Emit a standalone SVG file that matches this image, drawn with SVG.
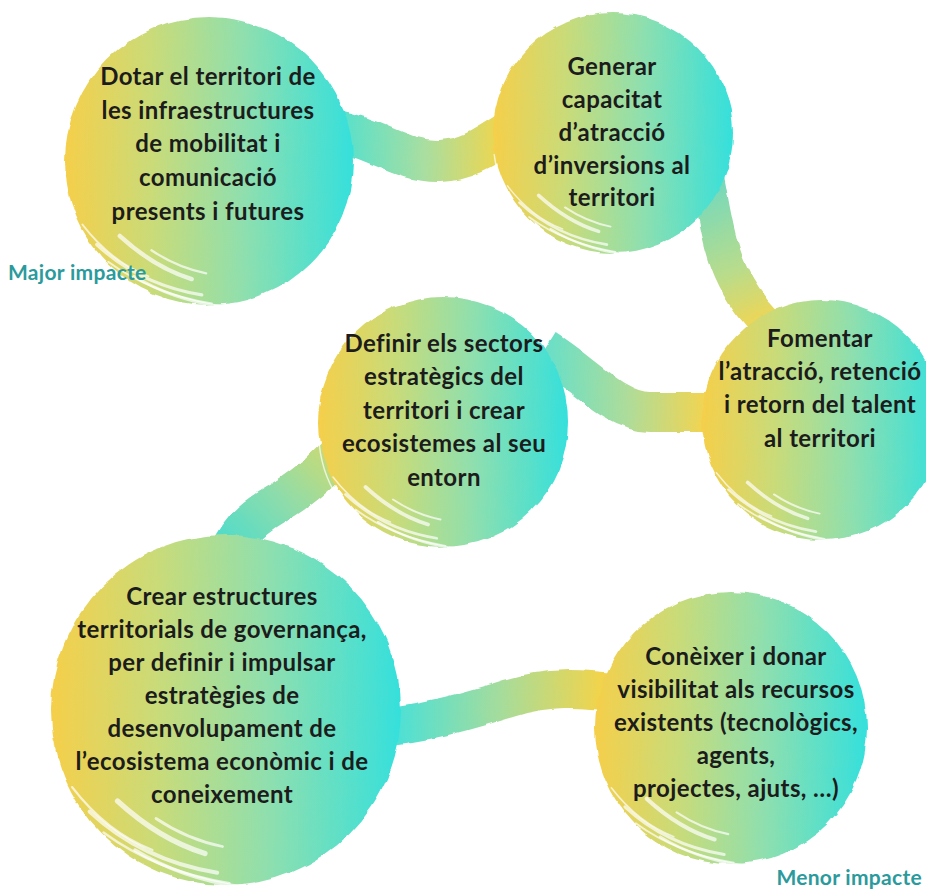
<svg xmlns="http://www.w3.org/2000/svg" xmlns:xlink="http://www.w3.org/1999/xlink" width="926" height="892" viewBox="0 0 926 892">
<style>
.node-text{font-family:"Lato","Noto Sans","DejaVu Sans",sans-serif;font-weight:700;font-size:24px;letter-spacing:0.4px;fill:#1c1c1c;text-anchor:middle}
.impact{font-family:"Lato","Noto Sans","DejaVu Sans",sans-serif;font-weight:700;font-size:21px;letter-spacing:0.3px;fill:#2b9a9c}
.band{fill:none;stroke-linecap:butt}
.streak{fill:none;stroke:#ffffff;stroke-linecap:round;opacity:0.7}
</style>
<defs>
<linearGradient id="circ" x1="0" y1="0" x2="1" y2="0">
<stop offset="0" stop-color="#f5cf4a"/>
<stop offset="0.3" stop-color="#cadb78"/>
<stop offset="0.62" stop-color="#8fdfae"/>
<stop offset="1" stop-color="#35e0dc"/>
</linearGradient>
<linearGradient id="g1" gradientUnits="userSpaceOnUse" x1="350" y1="0" x2="500" y2="0">
<stop offset="0" stop-color="#5ee0c8"/><stop offset="0.5" stop-color="#a9dea0"/><stop offset="1" stop-color="#efd64e"/>
</linearGradient>
<linearGradient id="g2" gradientUnits="userSpaceOnUse" x1="710" y1="190" x2="760" y2="320">
<stop offset="0" stop-color="#78d9ba"/><stop offset="0.6" stop-color="#b8dc8c"/><stop offset="1" stop-color="#ecd658"/>
</linearGradient>
<linearGradient id="g3" gradientUnits="userSpaceOnUse" x1="555" y1="0" x2="705" y2="0">
<stop offset="0" stop-color="#6edfc4"/><stop offset="0.5" stop-color="#b0dc98"/><stop offset="1" stop-color="#f2d451"/>
</linearGradient>
<linearGradient id="g4" gradientUnits="userSpaceOnUse" x1="340" y1="445" x2="230" y2="555">
<stop offset="0" stop-color="#d2da6c"/><stop offset="0.5" stop-color="#8fdcaa"/><stop offset="1" stop-color="#4ddccc"/>
</linearGradient>
<linearGradient id="g5" gradientUnits="userSpaceOnUse" x1="400" y1="0" x2="600" y2="0">
<stop offset="0" stop-color="#4fe0d4"/><stop offset="0.5" stop-color="#a5dc9c"/><stop offset="1" stop-color="#f1d44c"/>
</linearGradient>
<filter id="rough" x="-5%" y="-5%" width="110%" height="110%">
<feTurbulence type="fractalNoise" baseFrequency="0.06" numOctaves="2" seed="3" result="n"/>
<feDisplacementMap in="SourceGraphic" in2="n" scale="5" xChannelSelector="R" yChannelSelector="G"/>
</filter>
<g id="streaks">
<path class="streak" stroke-width="2.2" d="M -78,58 Q -48,86 -5,93"/>
<path class="streak" stroke-width="1.4" d="M -70,70 Q -40,92 2,99"/>
<path class="streak" stroke-width="3" d="M -62,52 Q -38,74 -12,82"/>
<path class="streak" stroke-width="1.2" d="M -88,44 Q -68,70 -42,80"/>
<path class="streak" stroke-width="2" d="M -52,80 Q -26,96 8,101"/>
<path class="streak" stroke-width="1.2" d="M -99,18 Q -96,46 -80,66"/>
<path class="streak" stroke-width="1.6" d="M -40,62 Q -22,74 -2,78"/>
<path class="streak" stroke-width="1" d="M -92,60 Q -75,85 -45,95"/>
</g>
</defs>
<rect width="926" height="892" fill="#ffffff"/>

<g id="connectors" filter="url(#rough)">
<path class="band" stroke="url(#g1)" stroke-width="42" d="M 330,130 C 380,138 400,162 440,161 C 470,160 488,145 520,125"/>
<path class="band" stroke="url(#g2)" stroke-width="33" d="M 708,180 C 718,230 720,275 765,322"/>
<path class="band" stroke="url(#g3)" stroke-width="40" d="M 545,350 C 585,375 615,412 650,412 L 725,412"/>
<path class="band" stroke="url(#g4)" stroke-width="40" d="M 350,440 C 320,475 300,490 270,508 C 250,520 235,535 225,562"/>
<path class="band" stroke="url(#g5)" stroke-width="38" d="M 370,728 C 430,723 470,710 510,698 C 550,686 580,688 620,693"/>
</g>

<g id="node-1">
<circle cx="209" cy="161" r="144" fill="url(#circ)" filter="url(#rough)"/>
<use href="#streaks" transform="translate(209 161) scale(1.44)"/>
<text class="node-text" x="208" y="85">Dotar el territori de</text>
<text class="node-text" x="208" y="119">les infraestructures</text>
<text class="node-text" x="208" y="152">de mobilitat i</text>
<text class="node-text" x="208" y="186">comunicació</text>
<text class="node-text" x="208" y="220">presents i futures</text>
</g>

<g id="node-2">
<circle cx="613" cy="133" r="120" fill="url(#circ)" filter="url(#rough)"/>
<use href="#streaks" transform="translate(613 133) scale(1.2)"/>
<text class="node-text" x="612" y="75">Generar</text>
<text class="node-text" x="612" y="108">capacitat</text>
<text class="node-text" x="612" y="141">d’atracció</text>
<text class="node-text" x="612" y="174">d’inversions al</text>
<text class="node-text" x="612" y="206">territori</text>
</g>

<g id="node-3">
<circle cx="443" cy="422" r="125" fill="url(#circ)" filter="url(#rough)"/>
<use href="#streaks" transform="translate(443 422) scale(1.25)"/>
<text class="node-text" x="444" y="352">Definir els sectors</text>
<text class="node-text" x="444" y="385">estratègics del</text>
<text class="node-text" x="444" y="419">territori i crear</text>
<text class="node-text" x="444" y="452">ecosistemes al seu</text>
<text class="node-text" x="444" y="486">entorn</text>
</g>

<g id="node-4">
<circle cx="822" cy="420" r="120" fill="url(#circ)" filter="url(#rough)"/>
<use href="#streaks" transform="translate(822 420) scale(1.2)"/>
<text class="node-text" x="820" y="347">Fomentar</text>
<text class="node-text" x="820" y="380">l’atracció, retenció</text>
<text class="node-text" x="820" y="413">i retorn del talent</text>
<text class="node-text" x="820" y="447">al territori</text>
</g>

<g id="node-5">
<circle cx="226" cy="710" r="175" fill="url(#circ)" filter="url(#rough)"/>
<use href="#streaks" transform="translate(226 710) scale(1.75)"/>
<text class="node-text" x="222" y="605">Crear estructures</text>
<text class="node-text" x="222" y="638">territorials de governança,</text>
<text class="node-text" x="222" y="671">per definir i impulsar</text>
<text class="node-text" x="222" y="704">estratègies de</text>
<text class="node-text" x="222" y="737">desenvolupament de</text>
<text class="node-text" x="222" y="770">l’ecosistema econòmic i de</text>
<text class="node-text" x="222" y="803">coneixement</text>
</g>

<g id="node-6">
<circle cx="731" cy="728" r="136" fill="url(#circ)" filter="url(#rough)"/>
<use href="#streaks" transform="translate(731 728) scale(1.36)"/>
<text class="node-text" x="736" y="665">Conèixer i donar</text>
<text class="node-text" x="736" y="698">visibilitat als recursos</text>
<text class="node-text" x="736" y="731">existents (tecnològics,</text>
<text class="node-text" x="736" y="764">agents,</text>
<text class="node-text" x="736" y="797">projectes, ajuts, …)</text>
</g>

<g id="labels">
<text class="impact" x="8" y="280">Major impacte</text>
<text class="impact" x="922" y="885" text-anchor="end">Menor impacte</text>
</g>
</svg>
